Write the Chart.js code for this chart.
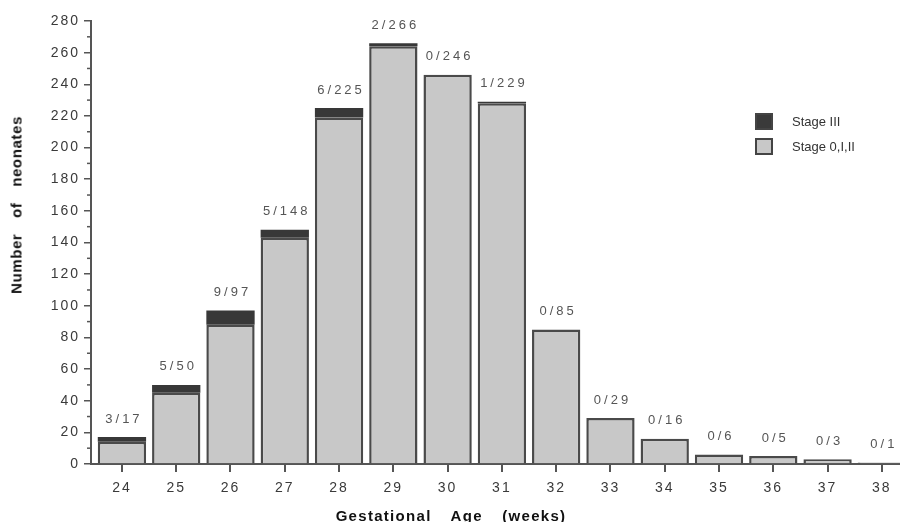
<!DOCTYPE html>
<html>
<head>
<meta charset="utf-8">
<script src="https://cdn.jsdelivr.net/npm/chart.js@4/dist/chart.umd.min.js"></script>
<style>
  body { margin: 0; background: #fff; }
  #wrap { position: relative; width: 900px; height: 522px; overflow: hidden; font-family: "Liberation Sans", Arial, sans-serif; }
  #wrap canvas { position: absolute; left: 0; top: 0; }
  .ytitle { position: absolute; left: 16px; top: 205px; transform: translate(-50%, -50%) rotate(-90deg);
            font-weight: bold; font-size: 15px; letter-spacing: 0.6px; color: #111; white-space: nowrap; word-spacing: 11px; }
  .xtitle { position: absolute; left: 451px; top: 515px; transform: translate(-50%, -50%);
            font-weight: bold; font-size: 15px; letter-spacing: 1.3px; color: #111; white-space: nowrap; word-spacing: 14px; }
  .leg { position: absolute; left: 755px; font-size: 13px; color: #333; white-space: nowrap; }
  .leg span.box { position: absolute; left: 0; top: 0; width: 18px; height: 17px; box-sizing: border-box; border: 2px solid #444; }
  .leg span.txt { position: absolute; left: 37px; top: 0; line-height: 18px; }
</style>
</head>
<body>
<div id="wrap">
  <canvas id="chart" width="920" height="522"></canvas>
  <div class="ytitle">Number of neonates</div>
  <div class="xtitle">Gestational Age (weeks)</div>
  <div class="leg" style="top:113px"><span class="box" style="background:#3a3a3a"></span><span class="txt">Stage III</span></div>
  <div class="leg" style="top:138px"><span class="box" style="background:#c8c8c8"></span><span class="txt">Stage 0,I,II</span></div>
</div>
<script>
// gestational age in weeks
const weeks = [24, 25, 26, 27, 28, 29, 30, 31, 32, 33, 34, 35, 36, 37, 38];
// neonates with stage III
const stage3 = [3, 5, 9, 5, 6, 2, 0, 1, 0, 0, 0, 0, 0, 0, 0];
// total neonates per week
const totals = [17, 50, 97, 148, 225, 266, 246, 229, 85, 29, 16, 6, 5, 3, 1];
// neonates with stage 0, I or II
const stage012 = totals.map((t, i) => t - stage3[i]);

const axisColor = '#555';
const fontFamily = '"Liberation Sans", Arial, sans-serif';

// spaced-out digits on the axes, like the original
const spacedTicks = {
  id: 'spacedTicks',
  beforeDraw(chart) { chart.ctx.letterSpacing = '2px'; },
  beforeDatasetsDraw(chart) { chart.ctx.letterSpacing = '0px'; }
};

// short ticks between the labelled ones on the y axis
const minorTicks = {
  id: 'minorTicks',
  afterDraw(chart) {
    const y = chart.scales.y;
    const ctx = chart.ctx;
    ctx.save();
    ctx.strokeStyle = axisColor;
    ctx.lineWidth = 1.5;
    for (let v = 10; v < 280; v += 20) {
      const py = y.getPixelForValue(v);
      ctx.beginPath();
      ctx.moveTo(y.right - 4, py);
      ctx.lineTo(y.right, py);
      ctx.stroke();
    }
    ctx.restore();
  }
};

// "stage III / total" labels above each bar
const barLabels = {
  id: 'barLabels',
  afterDatasetsDraw(chart) {
    const ctx = chart.ctx;
    const y = chart.scales.y;
    const x = chart.scales.x;
    ctx.save();
    ctx.fillStyle = '#555';
    ctx.font = '13px ' + fontFamily;
    ctx.letterSpacing = '3px';
    ctx.textAlign = 'center';
    ctx.textBaseline = 'middle';
    weeks.forEach((w, i) => {
      const px = x.getPixelForValue(w);
      const py = y.getPixelForValue(totals[i]);
      ctx.fillText(stage3[i] + '/' + totals[i], px + 2, py - 18);
    });
    ctx.restore();
  }
};

new Chart(document.getElementById('chart'), {
  type: 'bar',
  data: {
    datasets: [
      {
        label: 'Stage 0,I,II',
        data: weeks.map((w, i) => ({ x: w, y: stage012[i] })),
        backgroundColor: '#c8c8c8',
        borderColor: '#4a4a4a',
        borderWidth: 2.5,
        borderSkipped: 'bottom',
        barPercentage: 0.89,
        categoryPercentage: 1
      },
      {
        label: 'Stage III',
        data: weeks.map((w, i) => ({ x: w, y: stage3[i] })),
        backgroundColor: '#383838',
        borderWidth: 0,
        barPercentage: 0.89,
        categoryPercentage: 1
      }
    ]
  },
  options: {
    responsive: false,
    animation: false,
    layout: { padding: { top: 21, right: 11, left: 0, bottom: 0 } },
    plugins: {
      legend: { display: false },
      tooltip: { enabled: false }
    },
    scales: {
      x: {
        type: 'linear',
        stacked: true,
        offset: false,
        min: 23.43,
        max: 38.5,
        afterFit(scale) { scale.height = 58; },
        ticks: {
          stepSize: 1,
          includeBounds: false,
          color: '#3a3a3a',
          padding: 8,
          font: { size: 14, family: fontFamily }
        },
        grid: { offset: false, drawOnChartArea: false, color: axisColor, lineWidth: 2, tickLength: 8 },
        border: { color: axisColor, width: 2 }
      },
      y: {
        stacked: true,
        min: 0,
        max: 280,
        afterFit(scale) { scale.width = 91; },
        ticks: {
          stepSize: 20,
          color: '#3a3a3a',
          padding: 4,
          font: { size: 14, family: fontFamily }
        },
        grid: { drawOnChartArea: false, color: axisColor, lineWidth: 1.5, tickLength: 7 },
        border: { color: axisColor, width: 2 }
      }
    }
  },
  plugins: [spacedTicks, minorTicks, barLabels]
});
</script>
</body>
</html>
